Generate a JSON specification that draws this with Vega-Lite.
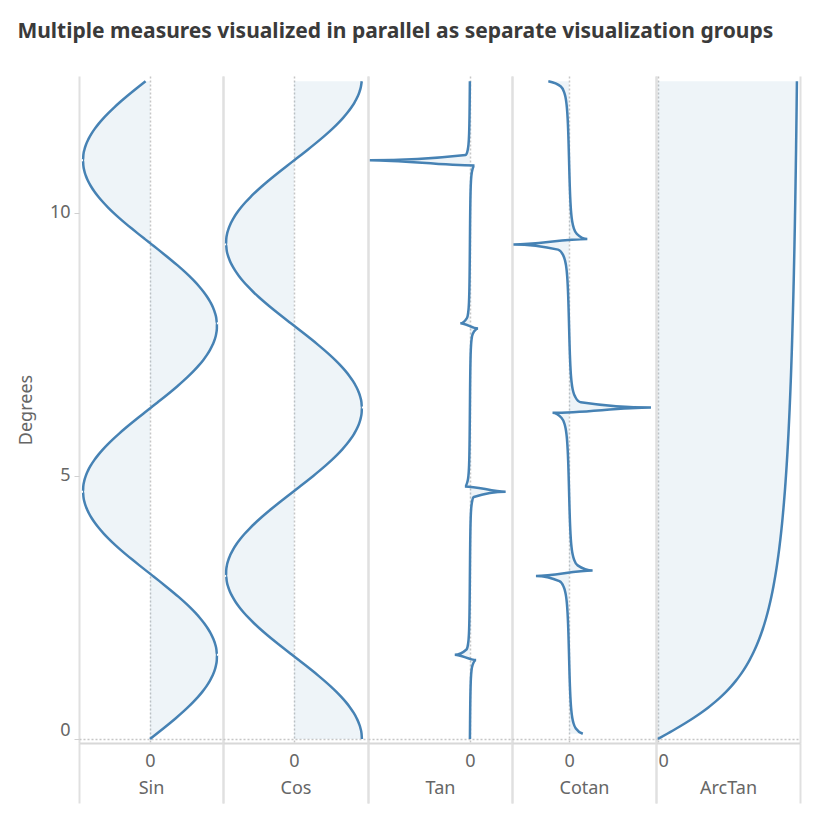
{
  "$schema": "https://vega.github.io/schema/vega-lite/v6.json",
  "padding": {"left": 17, "top": 21, "right": 0, "bottom": 0},
  "background": "white",
  "title": {"text": "Multiple measures visualized in parallel as separate visualization groups", "anchor": "start", "frame": "bounds", "font": "Noto Sans", "fontSize": 21, "fontWeight": "bold", "color": "#3a3a3a", "offset": 34},
  "bounds": "flush",
  "spacing": 0,
  "resolve": {"scale": {"x": "independent", "y": "independent"}, "axis": {"x": "independent", "y": "independent"}},
  "data": {"values": [
    {"deg":0,"sin":0,"cos":1,"tan":0,"cotan":null,"arctan":0},
    {"deg":0.1,"sin":0.0998,"cos":0.995,"tan":0.1003,"cotan":9.967,"arctan":0.0997},
    {"deg":0.2,"sin":0.1987,"cos":0.9801,"tan":0.2027,"cotan":4.933,"arctan":0.1974},
    {"deg":0.3,"sin":0.2955,"cos":0.9553,"tan":0.3093,"cotan":3.233,"arctan":0.2915},
    {"deg":0.4,"sin":0.3894,"cos":0.9211,"tan":0.4228,"cotan":2.365,"arctan":0.3805},
    {"deg":0.5,"sin":0.4794,"cos":0.8776,"tan":0.5463,"cotan":1.83,"arctan":0.4636},
    {"deg":0.6,"sin":0.5646,"cos":0.8253,"tan":0.6841,"cotan":1.462,"arctan":0.5404},
    {"deg":0.7,"sin":0.6442,"cos":0.7648,"tan":0.8423,"cotan":1.187,"arctan":0.6107},
    {"deg":0.8,"sin":0.7174,"cos":0.6967,"tan":1.0296,"cotan":0.971,"arctan":0.6747},
    {"deg":0.9,"sin":0.7833,"cos":0.6216,"tan":1.2602,"cotan":0.794,"arctan":0.7328},
    {"deg":1,"sin":0.8415,"cos":0.5403,"tan":1.5574,"cotan":0.642,"arctan":0.7854},
    {"deg":1.1,"sin":0.8912,"cos":0.4536,"tan":1.9648,"cotan":0.509,"arctan":0.833},
    {"deg":1.2,"sin":0.932,"cos":0.3624,"tan":2.5722,"cotan":0.389,"arctan":0.8761},
    {"deg":1.3,"sin":0.9636,"cos":0.2675,"tan":3.6021,"cotan":0.278,"arctan":0.9151},
    {"deg":1.4,"sin":0.9854,"cos":0.17,"tan":5.7979,"cotan":0.172,"arctan":0.9505},
    {"deg":1.5,"sin":0.9975,"cos":0.0707,"tan":14.101,"cotan":0.071,"arctan":0.9828},
    {"deg":1.6,"sin":0.9996,"cos":-0.0292,"tan":-34.233,"cotan":-0.029,"arctan":1.0122},
    {"deg":1.7,"sin":0.9917,"cos":-0.1288,"tan":-7.697,"cotan":-0.13,"arctan":1.0391},
    {"deg":1.8,"sin":0.9738,"cos":-0.2272,"tan":-4.286,"cotan":-0.233,"arctan":1.0637},
    {"deg":1.9,"sin":0.9463,"cos":-0.3233,"tan":-2.927,"cotan":-0.342,"arctan":1.0863},
    {"deg":2,"sin":0.9093,"cos":-0.4161,"tan":-2.185,"cotan":-0.458,"arctan":1.1071},
    {"deg":2.1,"sin":0.8632,"cos":-0.5048,"tan":-1.71,"cotan":-0.585,"arctan":1.1264},
    {"deg":2.2,"sin":0.8085,"cos":-0.5885,"tan":-1.374,"cotan":-0.728,"arctan":1.1442},
    {"deg":2.3,"sin":0.7457,"cos":-0.6663,"tan":-1.119,"cotan":-0.894,"arctan":1.1607},
    {"deg":2.4,"sin":0.6755,"cos":-0.7374,"tan":-0.916,"cotan":-1.092,"arctan":1.176},
    {"deg":2.5,"sin":0.5985,"cos":-0.8011,"tan":-0.747,"cotan":-1.339,"arctan":1.1903},
    {"deg":2.6,"sin":0.5155,"cos":-0.8569,"tan":-0.602,"cotan":-1.662,"arctan":1.2036},
    {"deg":2.7,"sin":0.4274,"cos":-0.9041,"tan":-0.473,"cotan":-2.115,"arctan":1.2161},
    {"deg":2.8,"sin":0.335,"cos":-0.9422,"tan":-0.356,"cotan":-2.813,"arctan":1.2278},
    {"deg":2.9,"sin":0.2392,"cos":-0.971,"tan":-0.246,"cotan":-4.058,"arctan":1.2387},
    {"deg":3,"sin":0.1411,"cos":-0.99,"tan":-0.1425,"cotan":-7.015,"arctan":1.249},
    {"deg":3.1,"sin":0.0416,"cos":-0.9991,"tan":-0.0416,"cotan":-24.03,"arctan":1.2588},
    {"deg":3.2,"sin":-0.0584,"cos":-0.9983,"tan":0.0585,"cotan":17.1,"arctan":1.2679},
    {"deg":3.3,"sin":-0.1578,"cos":-0.9875,"tan":0.1598,"cotan":6.259,"arctan":1.2766},
    {"deg":3.4,"sin":-0.2556,"cos":-0.9668,"tan":0.2644,"cotan":3.783,"arctan":1.2847},
    {"deg":3.5,"sin":-0.3508,"cos":-0.9365,"tan":0.3746,"cotan":2.669,"arctan":1.2925},
    {"deg":3.6,"sin":-0.4426,"cos":-0.8967,"tan":0.4935,"cotan":2.026,"arctan":1.2999},
    {"deg":3.7,"sin":-0.5299,"cos":-0.8481,"tan":0.6248,"cotan":1.6,"arctan":1.3068},
    {"deg":3.8,"sin":-0.6119,"cos":-0.791,"tan":0.7736,"cotan":1.293,"arctan":1.3135},
    {"deg":3.9,"sin":-0.6878,"cos":-0.7259,"tan":0.9475,"cotan":1.055,"arctan":1.3198},
    {"deg":4,"sin":-0.7568,"cos":-0.6536,"tan":1.1578,"cotan":0.864,"arctan":1.3258},
    {"deg":4.1,"sin":-0.8183,"cos":-0.5748,"tan":1.4236,"cotan":0.702,"arctan":1.3316},
    {"deg":4.2,"sin":-0.8716,"cos":-0.4902,"tan":1.7779,"cotan":0.562,"arctan":1.3371},
    {"deg":4.3,"sin":-0.9162,"cos":-0.4008,"tan":2.286,"cotan":0.437,"arctan":1.3423},
    {"deg":4.4,"sin":-0.9516,"cos":-0.3073,"tan":3.0966,"cotan":0.323,"arctan":1.3473},
    {"deg":4.5,"sin":-0.9775,"cos":-0.2108,"tan":4.6373,"cotan":0.216,"arctan":1.3521},
    {"deg":4.6,"sin":-0.9937,"cos":-0.1122,"tan":8.86,"cotan":0.113,"arctan":1.3567},
    {"deg":4.7,"sin":-0.9999,"cos":-0.0124,"tan":80.71,"cotan":0.0124,"arctan":1.3612},
    {"deg":4.8,"sin":-0.9962,"cos":0.0875,"tan":-11.385,"cotan":-0.0878,"arctan":1.3654},
    {"deg":4.9,"sin":-0.9825,"cos":0.1865,"tan":-5.267,"cotan":-0.19,"arctan":1.3695},
    {"deg":5,"sin":-0.9589,"cos":0.2837,"tan":-3.381,"cotan":-0.296,"arctan":1.3734},
    {"deg":5.1,"sin":-0.9259,"cos":0.3779,"tan":-2.45,"cotan":-0.408,"arctan":1.3772},
    {"deg":5.2,"sin":-0.8835,"cos":0.4684,"tan":-1.886,"cotan":-0.53,"arctan":1.3808},
    {"deg":5.3,"sin":-0.8323,"cos":0.5543,"tan":-1.502,"cotan":-0.666,"arctan":1.3843},
    {"deg":5.4,"sin":-0.7728,"cos":0.6346,"tan":-1.218,"cotan":-0.821,"arctan":1.3877},
    {"deg":5.5,"sin":-0.7056,"cos":0.7086,"tan":-0.996,"cotan":-1.004,"arctan":1.3909},
    {"deg":5.6,"sin":-0.6313,"cos":0.7755,"tan":-0.814,"cotan":-1.228,"arctan":1.3941},
    {"deg":5.7,"sin":-0.5508,"cos":0.8347,"tan":-0.66,"cotan":-1.515,"arctan":1.3971},
    {"deg":5.8,"sin":-0.4647,"cos":0.8855,"tan":-0.525,"cotan":-1.906,"arctan":1.4001},
    {"deg":5.9,"sin":-0.374,"cos":0.9275,"tan":-0.403,"cotan":-2.48,"arctan":1.4029},
    {"deg":6,"sin":-0.2794,"cos":0.9602,"tan":-0.291,"cotan":-3.436,"arctan":1.4056},
    {"deg":6.1,"sin":-0.1822,"cos":0.9833,"tan":-0.185,"cotan":-5.395,"arctan":1.4083},
    {"deg":6.2,"sin":-0.0831,"cos":0.9965,"tan":-0.0834,"cotan":-11.99,"arctan":1.4109},
    {"deg":6.3,"sin":0.0168,"cos":0.9999,"tan":0.0168,"cotan":59.47,"arctan":1.4134},
    {"deg":6.4,"sin":0.1165,"cos":0.9932,"tan":0.1173,"cotan":8.522,"arctan":1.4158},
    {"deg":6.5,"sin":0.2151,"cos":0.9766,"tan":0.2203,"cotan":4.54,"arctan":1.4181},
    {"deg":6.6,"sin":0.3115,"cos":0.9502,"tan":0.3279,"cotan":3.05,"arctan":1.4204},
    {"deg":6.7,"sin":0.4048,"cos":0.9144,"tan":0.4428,"cotan":2.259,"arctan":1.4226},
    {"deg":6.8,"sin":0.4941,"cos":0.8694,"tan":0.5683,"cotan":1.76,"arctan":1.4248},
    {"deg":6.9,"sin":0.5784,"cos":0.8157,"tan":0.7091,"cotan":1.41,"arctan":1.4269},
    {"deg":7,"sin":0.657,"cos":0.7539,"tan":0.8714,"cotan":1.148,"arctan":1.4289},
    {"deg":7.1,"sin":0.729,"cos":0.6846,"tan":1.0649,"cotan":0.939,"arctan":1.4309},
    {"deg":7.2,"sin":0.7937,"cos":0.6084,"tan":1.3046,"cotan":0.767,"arctan":1.4328},
    {"deg":7.3,"sin":0.8504,"cos":0.5261,"tan":1.6166,"cotan":0.619,"arctan":1.4347},
    {"deg":7.4,"sin":0.8987,"cos":0.4386,"tan":2.0492,"cotan":0.488,"arctan":1.4365},
    {"deg":7.5,"sin":0.938,"cos":0.3466,"tan":2.706,"cotan":0.37,"arctan":1.4383},
    {"deg":7.6,"sin":0.9679,"cos":0.2513,"tan":3.852,"cotan":0.26,"arctan":1.44},
    {"deg":7.7,"sin":0.9882,"cos":0.1534,"tan":6.443,"cotan":0.155,"arctan":1.4417},
    {"deg":7.8,"sin":0.9985,"cos":0.054,"tan":18.51,"cotan":0.054,"arctan":1.4433},
    {"deg":7.9,"sin":0.9989,"cos":-0.046,"tan":-21.72,"cotan":-0.0461,"arctan":1.4449},
    {"deg":8,"sin":0.9894,"cos":-0.1455,"tan":-6.8,"cotan":-0.147,"arctan":1.4464},
    {"deg":8.1,"sin":0.9699,"cos":-0.2435,"tan":-3.982,"cotan":-0.251,"arctan":1.448},
    {"deg":8.2,"sin":0.9407,"cos":-0.3392,"tan":-2.774,"cotan":-0.361,"arctan":1.4494},
    {"deg":8.3,"sin":0.9022,"cos":-0.4314,"tan":-2.091,"cotan":-0.478,"arctan":1.4509},
    {"deg":8.4,"sin":0.8546,"cos":-0.5193,"tan":-1.646,"cotan":-0.608,"arctan":1.4523},
    {"deg":8.5,"sin":0.7985,"cos":-0.602,"tan":-1.326,"cotan":-0.754,"arctan":1.4537},
    {"deg":8.6,"sin":0.7344,"cos":-0.6787,"tan":-1.082,"cotan":-0.924,"arctan":1.455},
    {"deg":8.7,"sin":0.663,"cos":-0.7487,"tan":-0.886,"cotan":-1.129,"arctan":1.4564},
    {"deg":8.8,"sin":0.5849,"cos":-0.8111,"tan":-0.721,"cotan":-1.387,"arctan":1.4577},
    {"deg":8.9,"sin":0.501,"cos":-0.8654,"tan":-0.579,"cotan":-1.727,"arctan":1.4589},
    {"deg":9,"sin":0.4121,"cos":-0.9111,"tan":-0.452,"cotan":-2.211,"arctan":1.4601},
    {"deg":9.1,"sin":0.3191,"cos":-0.9477,"tan":-0.337,"cotan":-2.97,"arctan":1.4613},
    {"deg":9.2,"sin":0.2229,"cos":-0.9749,"tan":-0.229,"cotan":-4.374,"arctan":1.4625},
    {"deg":9.3,"sin":0.1245,"cos":-0.9922,"tan":-0.125,"cotan":-7.972,"arctan":1.4637},
    {"deg":9.4,"sin":0.0248,"cos":-0.9997,"tan":-0.0248,"cotan":-40.35,"arctan":1.4648},
    {"deg":9.5,"sin":-0.0752,"cos":-0.9972,"tan":0.0754,"cotan":13.27,"arctan":1.4659},
    {"deg":9.6,"sin":-0.1744,"cos":-0.9847,"tan":0.1771,"cotan":5.646,"arctan":1.467},
    {"deg":9.7,"sin":-0.2718,"cos":-0.9624,"tan":0.2825,"cotan":3.54,"arctan":1.4681},
    {"deg":9.8,"sin":-0.3665,"cos":-0.9304,"tan":0.394,"cotan":2.538,"arctan":1.4691},
    {"deg":9.9,"sin":-0.4576,"cos":-0.8892,"tan":0.5146,"cotan":1.943,"arctan":1.4701},
    {"deg":10,"sin":-0.544,"cos":-0.8391,"tan":0.6484,"cotan":1.542,"arctan":1.4711},
    {"deg":10.1,"sin":-0.6251,"cos":-0.7805,"tan":0.8009,"cotan":1.249,"arctan":1.4721},
    {"deg":10.2,"sin":-0.6999,"cos":-0.7142,"tan":0.98,"cotan":1.02,"arctan":1.4731},
    {"deg":10.3,"sin":-0.7677,"cos":-0.6408,"tan":1.1981,"cotan":0.835,"arctan":1.474},
    {"deg":10.4,"sin":-0.8279,"cos":-0.5609,"tan":1.4759,"cotan":0.678,"arctan":1.4749},
    {"deg":10.5,"sin":-0.8797,"cos":-0.4755,"tan":1.8502,"cotan":0.54,"arctan":1.4758},
    {"deg":10.6,"sin":-0.9228,"cos":-0.3853,"tan":2.3952,"cotan":0.418,"arctan":1.4767},
    {"deg":10.7,"sin":-0.9567,"cos":-0.2912,"tan":3.285,"cotan":0.304,"arctan":1.4776},
    {"deg":10.8,"sin":-0.9809,"cos":-0.1943,"tan":5.05,"cotan":0.198,"arctan":1.4785},
    {"deg":10.9,"sin":-0.9954,"cos":-0.0954,"tan":10.431,"cotan":0.0959,"arctan":1.4793},
    {"deg":11,"sin":-1,"cos":0.0044,"tan":-225.95,"cotan":-0.0044,"arctan":1.4801},
    {"deg":11.1,"sin":-0.9946,"cos":0.1042,"tan":-9.541,"cotan":-0.105,"arctan":1.481},
    {"deg":11.2,"sin":-0.9792,"cos":0.203,"tan":-4.825,"cotan":-0.207,"arctan":1.4818},
    {"deg":11.3,"sin":-0.954,"cos":0.2997,"tan":-3.183,"cotan":-0.314,"arctan":1.4825},
    {"deg":11.4,"sin":-0.9194,"cos":0.3935,"tan":-2.337,"cotan":-0.428,"arctan":1.4833},
    {"deg":11.5,"sin":-0.8755,"cos":0.4833,"tan":-1.812,"cotan":-0.552,"arctan":1.4841},
    {"deg":11.6,"sin":-0.8229,"cos":0.5683,"tan":-1.448,"cotan":-0.691,"arctan":1.4848},
    {"deg":11.7,"sin":-0.762,"cos":0.6476,"tan":-1.177,"cotan":-0.85,"arctan":1.4855},
    {"deg":11.8,"sin":-0.6936,"cos":0.7204,"tan":-0.963,"cotan":-1.039,"arctan":1.4863},
    {"deg":11.9,"sin":-0.6182,"cos":0.786,"tan":-0.786,"cotan":-1.272,"arctan":1.487},
    {"deg":12,"sin":-0.5366,"cos":0.8439,"tan":-0.636,"cotan":-1.573,"arctan":1.4877},
    {"deg":12.1,"sin":-0.4497,"cos":0.8932,"tan":-0.503,"cotan":-1.986,"arctan":1.4883},
    {"deg":12.2,"sin":-0.3583,"cos":0.9336,"tan":-0.384,"cotan":-2.606,"arctan":1.489},
    {"deg":12.3,"sin":-0.2633,"cos":0.9647,"tan":-0.273,"cotan":-3.664,"arctan":1.4897},
    {"deg":12.4,"sin":-0.1657,"cos":0.9862,"tan":-0.168,"cotan":-5.953,"arctan":1.4903},
    {"deg":12.5,"sin":-0.0663,"cos":0.9978,"tan":-0.0665,"cotan":-15.04,"arctan":1.491}
  ]},
  "hconcat": [
    {
      "width": 144, "height": 667,
      "encoding": {
        "y": {"field": "deg", "type": "quantitative", "scale": {"domain": [-0.076, 12.6], "nice": false, "zero": false},
          "axis": {"values": [0, 5, 10], "title": "Degrees", "domain": false, "ticks": true, "tickSize": 5, "tickColor": "#d0d0d0", "labelPadding": 4, "labelFlush": 5, "labelOverlap": false, "titlePadding": 14,
            "grid": true, "gridColor": {"condition": {"test": "datum.value === 0", "value": "#c6c6c6"}, "value": "transparent"}, "gridDash": [2, 2], "gridWidth": 1.5}},
        "x": {"field": "sin", "type": "quantitative", "scale": {"domain": [-1.06, 1.09], "nice": false, "zero": false},
          "axis": {"values": [-1.06, 0, 1.09], "title": "Sin", "labelExpr": "datum.value === 0 ? '0' : ''", "labelOverlap": false, "labelFlush": 3, "labelPadding": -51,
            "grid": true, "gridColor": {"condition": {"test": "datum.value === 0", "value": "#c6c6c6"}, "value": "#e0e0e0"}, "gridDash": {"condition": {"test": "datum.value === 0", "value": [2, 2]}, "value": []}, "gridWidth": {"condition": {"test": "datum.value === 0", "value": 1.5}, "value": 2},
            "ticks": true, "tickSize": 60, "tickWidth": 2, "tickColor": {"condition": {"test": "datum.value === 0", "value": "transparent"}, "value": "#e0e0e0"},
            "domain": true, "domainColor": "#d8d8d8", "domainWidth": 2, "titleY": 45, "titleBaseline": "middle"}}
      },
      "layer": [
        {"mark": {"type": "area", "orient": "horizontal", "interpolate": "monotone", "color": "#4682b4", "opacity": 0.09}, "encoding": {"x2": {"datum": 0}}},
        {"mark": {"type": "line", "orient": "horizontal", "interpolate": "monotone", "color": "#4682b4", "strokeWidth": 2.5}, "encoding": {"order": {"field": "deg", "type": "quantitative"}}}
      ]
    },
    {
      "width": 145, "height": 667,
      "encoding": {
        "y": {"field": "deg", "type": "quantitative", "scale": {"domain": [-0.076, 12.6], "nice": false, "zero": false},
          "axis": {"values": [0], "title": null, "labels": false, "ticks": false, "domain": false, "grid": true, "gridColor": "#c6c6c6", "gridDash": [2, 2], "gridWidth": 1.5}},
        "x": {"field": "cos", "type": "quantitative", "scale": {"domain": [-1.045, 1.09], "nice": false, "zero": false},
          "axis": {"values": [-1.045, 0, 1.09], "title": "Cos", "labelExpr": "datum.value === 0 ? '0' : ''", "labelOverlap": false, "labelFlush": 3, "labelPadding": -51,
            "grid": true, "gridColor": {"condition": {"test": "datum.value === 0", "value": "#c6c6c6"}, "value": "#e0e0e0"}, "gridDash": {"condition": {"test": "datum.value === 0", "value": [2, 2]}, "value": []}, "gridWidth": {"condition": {"test": "datum.value === 0", "value": 1.5}, "value": 2},
            "ticks": true, "tickSize": 60, "tickWidth": 2, "tickColor": {"condition": {"test": "datum.value === 0", "value": "transparent"}, "value": "#e0e0e0"},
            "domain": true, "domainColor": "#d8d8d8", "domainWidth": 2, "titleY": 45, "titleBaseline": "middle"}}
      },
      "layer": [
        {"mark": {"type": "area", "orient": "horizontal", "interpolate": "monotone", "color": "#4682b4", "opacity": 0.09}, "encoding": {"x2": {"datum": 0}}},
        {"mark": {"type": "line", "orient": "horizontal", "interpolate": "monotone", "color": "#4682b4", "strokeWidth": 2.5}, "encoding": {"order": {"field": "deg", "type": "quantitative"}}}
      ]
    },
    {
      "width": 144, "height": 667,
      "encoding": {
        "y": {"field": "deg", "type": "quantitative", "scale": {"domain": [-0.076, 12.6], "nice": false, "zero": false},
          "axis": {"values": [0], "title": null, "labels": false, "ticks": false, "domain": false, "grid": true, "gridColor": "#c6c6c6", "gridDash": [2, 2], "gridWidth": 1.5}},
        "x": {"field": "tan", "type": "quantitative", "scale": {"domain": [-230, 95], "nice": false, "zero": false},
          "axis": {"values": [-230, 0, 95], "title": "Tan", "labelExpr": "datum.value === 0 ? '0' : ''", "labelOverlap": false, "labelFlush": 3, "labelPadding": -51,
            "grid": true, "gridColor": {"condition": {"test": "datum.value === 0", "value": "#c6c6c6"}, "value": "#e0e0e0"}, "gridDash": {"condition": {"test": "datum.value === 0", "value": [2, 2]}, "value": []}, "gridWidth": {"condition": {"test": "datum.value === 0", "value": 1.5}, "value": 2},
            "ticks": true, "tickSize": 60, "tickWidth": 2, "tickColor": {"condition": {"test": "datum.value === 0", "value": "transparent"}, "value": "#e0e0e0"},
            "domain": true, "domainColor": "#d8d8d8", "domainWidth": 2, "titleY": 45, "titleBaseline": "middle"}}
      },
      "layer": [
        {"mark": {"type": "area", "orient": "horizontal", "interpolate": "monotone", "color": "#4682b4", "opacity": 0.09}, "encoding": {"x2": {"datum": 0}}},
        {"mark": {"type": "line", "orient": "horizontal", "interpolate": "monotone", "color": "#4682b4", "strokeWidth": 2.5}, "encoding": {"order": {"field": "deg", "type": "quantitative"}}}
      ]
    },
    {
      "width": 144, "height": 667,
      "encoding": {
        "y": {"field": "deg", "type": "quantitative", "scale": {"domain": [-0.076, 12.6], "nice": false, "zero": false},
          "axis": {"values": [0], "title": null, "labels": false, "ticks": false, "domain": false, "grid": true, "gridColor": "#c6c6c6", "gridDash": [2, 2], "gridWidth": 1.5}},
        "x": {"field": "cotan", "type": "quantitative", "scale": {"domain": [-41.4, 63.1], "nice": false, "zero": false},
          "axis": {"values": [-41.4, 0, 63.1], "title": "Cotan", "labelExpr": "datum.value === 0 ? '0' : ''", "labelOverlap": false, "labelFlush": 3, "labelPadding": -51,
            "grid": true, "gridColor": {"condition": {"test": "datum.value === 0", "value": "#c6c6c6"}, "value": "#e0e0e0"}, "gridDash": {"condition": {"test": "datum.value === 0", "value": [2, 2]}, "value": []}, "gridWidth": {"condition": {"test": "datum.value === 0", "value": 1.5}, "value": 2},
            "ticks": true, "tickSize": 60, "tickWidth": 2, "tickColor": {"condition": {"test": "datum.value === 0", "value": "transparent"}, "value": "#e0e0e0"},
            "domain": true, "domainColor": "#d8d8d8", "domainWidth": 2, "titleY": 45, "titleBaseline": "middle"}}
      },
      "layer": [
        {"mark": {"type": "area", "orient": "horizontal", "interpolate": "monotone", "color": "#4682b4", "opacity": 0.09}, "encoding": {"x2": {"datum": 0}}},
        {"mark": {"type": "line", "orient": "horizontal", "interpolate": "monotone", "color": "#4682b4", "strokeWidth": 2.5}, "encoding": {"order": {"field": "deg", "type": "quantitative"}}}
      ]
    },
    {
      "width": 144, "height": 667,
      "encoding": {
        "y": {"field": "deg", "type": "quantitative", "scale": {"domain": [-0.076, 12.6], "nice": false, "zero": false},
          "axis": {"values": [0], "title": null, "labels": false, "ticks": false, "domain": false, "grid": true, "gridColor": "#c6c6c6", "gridDash": [2, 2], "gridWidth": 1.5}},
        "x": {"field": "arctan", "type": "quantitative", "scale": {"domain": [-0.021, 1.524], "nice": false, "zero": false},
          "axis": {"values": [-0.021, 0, 1.524], "title": "ArcTan", "labelExpr": "datum.value === 0 ? '0' : ''", "labelOverlap": false, "labelFlush": 3, "labelPadding": -51,
            "grid": true, "gridColor": {"condition": {"test": "datum.value === 0", "value": "#c6c6c6"}, "value": "#e0e0e0"}, "gridDash": {"condition": {"test": "datum.value === 0", "value": [2, 2]}, "value": []}, "gridWidth": {"condition": {"test": "datum.value === 0", "value": 1.5}, "value": 2},
            "ticks": true, "tickSize": 60, "tickWidth": 2, "tickColor": {"condition": {"test": "datum.value === 0", "value": "transparent"}, "value": "#e0e0e0"},
            "domain": true, "domainColor": "#d8d8d8", "domainWidth": 2, "titleY": 45, "titleBaseline": "middle"}}
      },
      "layer": [
        {"mark": {"type": "area", "orient": "horizontal", "interpolate": "monotone", "color": "#4682b4", "opacity": 0.09}, "encoding": {"x2": {"datum": 0}}},
        {"mark": {"type": "line", "orient": "horizontal", "interpolate": "monotone", "color": "#4682b4", "strokeWidth": 2.5}, "encoding": {"order": {"field": "deg", "type": "quantitative"}}}
      ]
    }
  ],
  "config": {
    "view": {"stroke": null},
    "font": "Noto Sans",
    "axis": {"labelFont": "Noto Sans", "titleFont": "Noto Sans", "labelColor": "#666666", "titleColor": "#666666", "labelFontSize": 18, "titleFontSize": 18, "titleFontWeight": "normal"}
  }
}
